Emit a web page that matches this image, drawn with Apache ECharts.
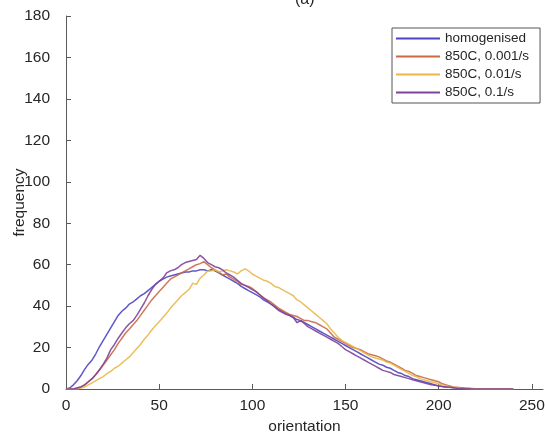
<!DOCTYPE html>
<html lang="en">
<head>
    <meta charset="utf-8">
    <title>orientation frequency</title>
<script src="https://cdn.jsdelivr.net/npm/echarts@6/dist/echarts.min.js"></script>
</head>

<body style="margin:0;background:#fff;">
    <div id="chart" style="width:545px;height:441px;"></div>

	<script type="text/javascript">
        // orientation bins (step 2)
        var orientation = [
            0, 2, 4, 6, 8, 10, 12, 14, 16, 18,
            20, 22, 24, 26, 28, 30, 32, 34, 36, 38,
            40, 42, 44, 46, 48, 50, 52, 54, 56, 58,
            60, 62, 64, 66, 68, 70, 72, 74, 76, 78,
            80, 82, 84, 86, 88, 90, 92, 94, 96, 98,
            100, 102, 104, 106, 108, 110, 112, 114, 116, 118,
            120, 122, 124, 126, 128, 130, 132, 134, 136, 138,
            140, 142, 144, 146, 148, 150, 152, 154, 156, 158,
            160, 162, 164, 166, 168, 170, 172, 174, 176, 178,
            180, 182, 184, 186, 188, 190, 192, 194, 196, 198,
            200, 202, 204, 206, 208, 210, 212, 214, 216, 218,
            220, 222, 224, 226, 228, 230, 232, 234, 236, 238,
            240
        ];

        var homogenised = [
            0, 0.5, 2, 4, 6.5, 9.5, 12, 14, 17, 20.5,
            23.5, 26.5, 29.5, 32.5, 35.5, 37.5, 39, 41, 42, 43.5,
            45, 46, 47.5, 49, 50.5, 52, 53, 54, 54.5, 55,
            55.5, 56, 56.5, 56.5, 57, 57, 57.5, 57.5, 57, 57.5,
            57, 56, 55, 54, 53, 52, 51, 49.5, 48.5, 47.5,
            46.5, 45.5, 44.5, 43, 42, 41, 40, 38.5, 37.5, 36.5,
            35.5, 34.5, 33.5, 33, 32, 31, 30, 29, 28, 27,
            26, 25, 24, 23, 22, 21, 20, 19, 18, 17,
            16, 15, 14, 13, 12, 11.5, 10.5, 10, 9, 8,
            7.5, 6.5, 6, 5, 4.5, 4, 3.5, 3, 2.5, 2,
            1.5, 1.2, 1, 0.8, 0.6, 0.5, 0.4, 0.3, 0.2, 0.1,
            0.1, 0, 0, 0, 0, 0, 0, 0, 0, 0,
            0
        ];

        var s850_0001 = [
            0, 0, 0, 0.5, 1, 2, 3.5, 5, 7, 9,
            11.5, 14, 16.5, 19, 22, 24.5, 27, 29, 31, 33,
            35.5, 38, 40.5, 43, 45, 47, 49, 51, 53, 54,
            55, 56, 57, 58, 59, 60, 60.5, 61.5, 60, 58.5,
            57.5, 56.5, 55, 55.5, 54, 53, 52, 50.5, 50, 49.5,
            48.5, 47, 45.5, 44, 43, 42, 40.5, 39, 38, 37,
            36, 35.5, 35, 34, 33, 33, 32.5, 32, 31, 30,
            29, 27, 25, 24, 23, 22, 21, 20, 19.5, 19,
            18, 17, 16.5, 16, 15.5, 14.5, 13.5, 13, 12, 11,
            10, 9, 8.5, 7.5, 6.5, 6, 5.5, 5, 4.5, 4,
            3.5, 2.5, 2, 1.5, 1, 0.8, 0.6, 0.4, 0.3, 0.2,
            0.1, 0.1, 0, 0, 0, 0, 0, 0, 0, 0,
            0
        ];

        var s850_001 = [
            0, 0, 0, 0, 0.5, 1, 2, 3, 4, 5,
            6, 7.5, 8.5, 10, 11, 12.5, 14, 15.5, 17.5, 19.5,
            21.5, 24, 26, 28.5, 30.5, 32.5, 34.5, 36.5, 39, 41,
            43, 45, 46.5, 48, 51, 50.5, 53.5, 55, 57, 57,
            57.5, 56.5, 57, 57.5, 57, 56.5, 55.5, 57, 58, 57,
            55.5, 54.5, 53.5, 52.5, 52, 51, 49.5, 49, 48, 47,
            46, 45, 43, 42, 40.5, 39, 37.5, 36, 34.5, 33,
            31.5, 29, 27, 25, 23.5, 22.5, 21.5, 20.5, 19.5, 18.5,
            17.5, 16.5, 15.5, 15, 14.5, 14, 13, 12.5, 11.5, 10.5,
            9.5, 8.5, 7.5, 6.5, 6, 5, 4.5, 4, 3.5, 3,
            2.5, 2, 1.5, 1, 0.8, 0.6, 0.4, 0.3, 0.2, 0.1,
            0, 0, 0, 0, 0, 0, 0, 0, 0, 0,
            0
        ];

        var s850_01 = [
            0, 0, 0, 0.5, 1, 2, 3.5, 5, 7, 9.5,
            12, 15, 19, 21.5, 24.5, 27, 29.5, 31.5, 33, 35.5,
            38.5, 41.5, 45, 48, 50.5, 52, 53.5, 56, 57, 57.5,
            58.5, 60, 61, 61.5, 62, 62.5, 64.5, 63, 61, 60,
            59, 58.5, 57.5, 56, 55, 54, 52.5, 51, 50, 49,
            48, 47, 45.5, 44, 42.5, 41, 39.5, 38, 37, 36,
            35.5, 34.5, 32, 33, 31.5, 30, 29, 28, 27, 26,
            25, 24, 23, 22, 20.5, 19, 18, 17, 16, 15,
            14, 13, 12, 11, 10, 9, 8.5, 8, 7, 6.5,
            6, 5.5, 5, 4.5, 4, 3.5, 3, 2.5, 2, 1.8,
            1.5, 1.2, 1, 0.8, 0.6, 0.4, 0.3, 0.2, 0.1, 0,
            0, 0, 0, 0, 0, 0, 0, 0, 0, 0,
            0
        ];

        var names = ['homogenised', '850C, 0.001/s', '850C, 0.01/s', '850C, 0.1/s'];
        var colors = ['#4b45c4', '#c96a45', '#e8b84a', '#7f4399'];
        var values = [homogenised, s850_0001, s850_001, s850_01];
        var xTicks = [0, 50, 100, 150, 200, 250];

        function pairs(ys) {
            var out = [];
            for (var i = 0; i < ys.length; i++) out.push([orientation[i], ys[i]]);
            return out;
        }

        var myChart = echarts.init(document.getElementById('chart'));

        var series = [];
        for (var k = 0; k < names.length; k++) {
            series.push({
                name: names[k],
                type: 'line',
                data: pairs(values[k]),
                showSymbol: false,
                symbol: 'none',
                lineStyle: { width: 1.5, color: colors[k], opacity: 0.9 },
                itemStyle: { color: colors[k] },
                animation: false
            });
        }

        var axisText = { color: '#262626', fontSize: 15.5, fontFamily: 'Liberation Sans' };

        var option = {
            animation: false,
            backgroundColor: '#fff',
            title: {
                text: '(a)',
                left: 290,
                top: -13,
                textStyle: { color: '#262626', fontSize: 16, fontWeight: 'normal', fontFamily: 'Liberation Sans' }
            },
            legend: {
                orient: 'vertical',
                left: 392,
                top: 28,
                padding: [3, 11, 3, 4],
                itemGap: 3,
                itemWidth: 44,
                itemHeight: 2,
                icon: 'rect',
                backgroundColor: '#fff',
                borderColor: '#555',
                borderWidth: 1,
                textStyle: { color: '#262626', fontSize: 13.5, fontFamily: 'Liberation Sans', lineHeight: 15 },
                data: names
            },
            grid: { left: 66, right: 2, top: 16, bottom: 52, containLabel: false, outerBoundsMode: 'none' },
            xAxis: {
                type: 'value',
                min: 0,
                max: 256,
                name: 'orientation',
                nameLocation: 'middle',
                nameGap: 30,
                nameMoveOverlap: false,
                nameTextStyle: axisText,
                axisLine: { lineStyle: { color: '#5a5a5a', width: 1 } },
                axisTick: { inside: true, length: 5, customValues: xTicks, lineStyle: { color: '#5a5a5a' } },
                axisLabel: { customValues: xTicks, margin: 9, color: '#262626', fontSize: 15.5, fontFamily: 'Liberation Sans' },
                splitLine: { show: false }
            },
            yAxis: {
                type: 'value',
                min: 0,
                max: 180,
                interval: 20,
                name: 'frequency',
                nameLocation: 'middle',
                nameGap: 38,
                nameMoveOverlap: false,
                nameTextStyle: axisText,
                axisLine: { show: true, lineStyle: { color: '#5a5a5a', width: 1 } },
                axisTick: { show: true, inside: true, length: 5, lineStyle: { color: '#5a5a5a' } },
                axisLabel: { margin: 16, color: '#262626', fontSize: 15.5, fontFamily: 'Liberation Sans' },
                splitLine: { show: false }
            },
            series: series
        };
        myChart.setOption(option);
</script>
</body>
</html>
